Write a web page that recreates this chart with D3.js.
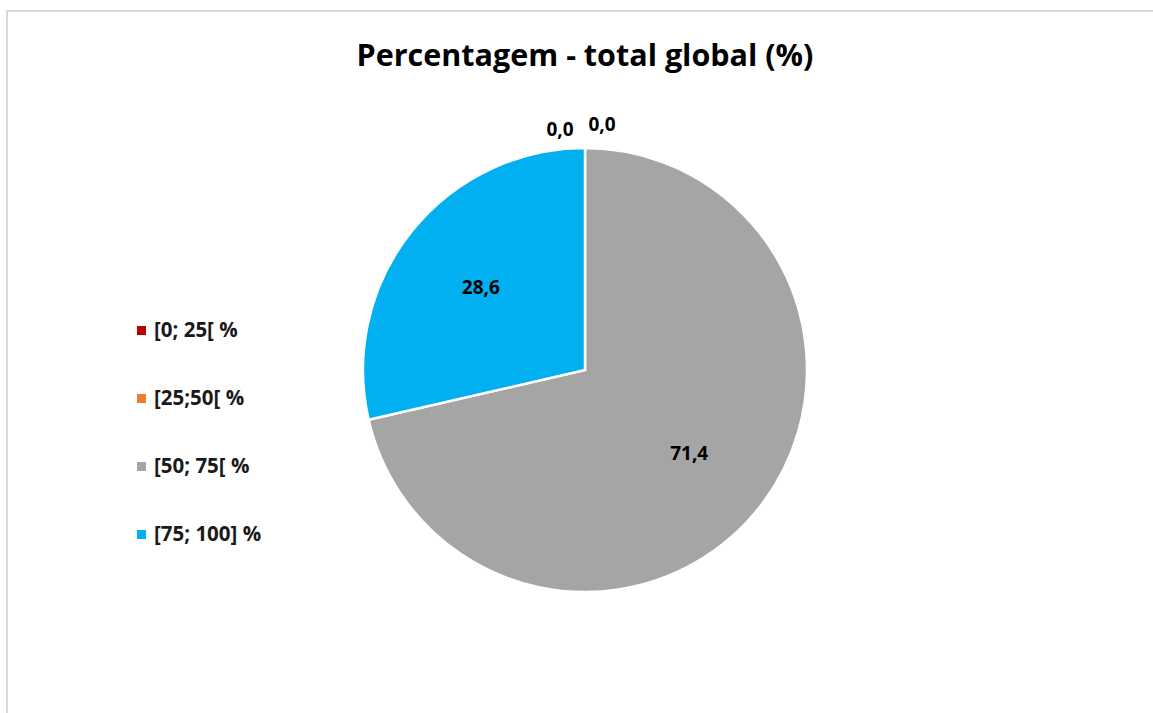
<!DOCTYPE html>
<html>
<head>
<meta charset="utf-8">
<script src="https://cdn.jsdelivr.net/npm/d3@7"></script>
<style>
  body { margin: 0; background: #fff; }
  text { font-family: "Open Sans", "Noto Sans", sans-serif; }
</style>
</head>
<body>
<div id="chart"></div>
<script>
// data
var categories = ["[0; 25[ %", "[25;50[ %", "[50; 75[ %", "[75; 100] %"];
var values = [0.0, 0.0, 71.4, 28.6];
var colors = ["#C00000", "#ED7D31", "#A5A5A5", "#00B0F0"];
var title = "Percentagem - total global (%)";

var width = 1153, height = 713;
var cx = 585, cy = 370, radius = 222;

var svg = d3.select("#chart")
  .append("svg")
    .attr("width", width)
    .attr("height", height);

// chart border
svg.append("rect")
  .attr("x", 7)
  .attr("y", 11)
  .attr("width", width + 20)
  .attr("height", height + 20)
  .attr("fill", "none")
  .attr("stroke", "#d9d9d9")
  .attr("stroke-width", 2);

// title
svg.append("text")
  .attr("x", cx)
  .attr("y", 66)
  .attr("text-anchor", "middle")
  .attr("font-size", 30.5)
  .attr("font-weight", "bold")
  .attr("fill", "#000")
  .text(title);

var data = categories.map(function(c, i) {
  return {name: c, value: values[i], color: colors[i]};
});

var pie = d3.pie()
  .sort(null)
  .value(function(d) { return d.value; });

var arc = d3.arc()
  .innerRadius(0)
  .outerRadius(radius);

var labelArc = d3.arc()
  .innerRadius(radius * 0.6)
  .outerRadius(radius * 0.6);

var outerArc = d3.arc()
  .innerRadius(radius + 12)
  .outerRadius(radius + 12);

var g = svg.append("g")
  .attr("transform", "translate(" + cx + "," + cy + ")");

var arcs = pie(data);

g.selectAll("path")
  .data(arcs)
  .enter()
  .append("path")
    .attr("d", arc)
    .attr("fill", function(d) { return d.data.color; })
    .attr("stroke", "#fff")
    .attr("stroke-width", 2.5);

// data labels (zero slices pushed outside, side by side)
var zeroCount = 0;
g.selectAll(".lbl")
  .data(arcs)
  .enter()
  .append("text")
    .attr("class", "lbl")
    .attr("text-anchor", "middle")
    .attr("font-size", 19)
    .attr("font-weight", "bold")
    .attr("fill", "#000")
    .attr("transform", function(d) {
      var p;
      if (d.data.value === 0) {
        p = outerArc.centroid(d);
        p[0] += (zeroCount === 0 ? -25 : 17);
        p[1] += (zeroCount === 0 ? 0 : -5);
        zeroCount++;
      } else {
        p = labelArc.centroid(d);
        p[1] += 7;
      }
      return "translate(" + p[0] + "," + p[1] + ")";
    })
    .text(function(d) { return d3.format(".1f")(d.data.value).replace(".", ","); });

// legend
var legend = svg.append("g")
  .attr("transform", "translate(137,330)");

var item = legend.selectAll(".item")
  .data(data)
  .enter()
  .append("g")
    .attr("class", "item")
    .attr("transform", function(d, i) { return "translate(0," + (i * 68) + ")"; });

item.append("rect")
  .attr("x", 0)
  .attr("y", -4)
  .attr("width", 9)
  .attr("height", 9)
  .attr("fill", function(d) { return d.color; });

item.append("text")
  .attr("x", 17)
  .attr("y", 7)
  .attr("font-size", 20.5)
  .attr("font-weight", "bold")
  .attr("fill", "#1a1a1a")
  .text(function(d) { return d.name; });
</script>
</body>
</html>
